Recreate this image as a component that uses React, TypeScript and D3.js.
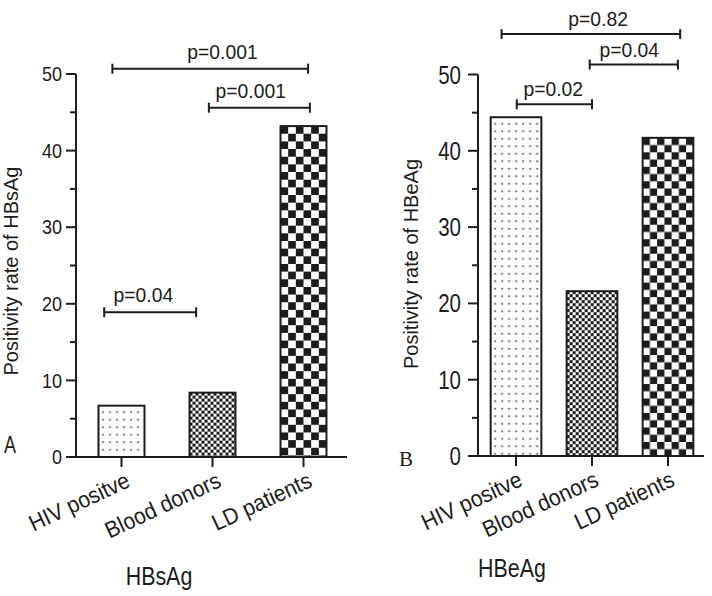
import React from "react";
import * as d3 from "d3";

const categories = ["HIV positve", "Blood donors", "LD patients"];
const hbsagValues = [6.7, 8.4, 43.2];
const hbeagValues = [44.4, 21.6, 41.7];
const yTicks = [0, 10, 20, 30, 40, 50];
const yMinorTicks = [5, 15, 25, 35, 45];

// significance brackets (positions in category units: 0 = first category)
const hbsagBracketFrom = [-0.1, 0.96, -0.19];
const hbsagBracketTo = [2.05, 2.07, 0.82];
const hbsagBracketValue = [50.7, 45.6, 18.9];
const hbsagBracketLabelAt = [1.11, 1.42, 0.24];
const hbsagBracketLabels = ["p=0.001", "p=0.001", "p=0.04"];

const hbeagBracketFrom = [-0.19, 0.97, 0.01];
const hbeagBracketTo = [2.16, 2.13, 1.0];
const hbeagBracketValue = [55.3, 51.3, 46.1];
const hbeagBracketLabelAt = [1.08, 1.49, 0.49];
const hbeagBracketLabels = ["p=0.82", "p=0.04", "p=0.02"];

const INK = "#1c1c1c";
const FONT = "'Liberation Sans', Arial, Helvetica, sans-serif";

type PanelProps = {
  id: string;
  values: number[];
  bFrom: number[];
  bTo: number[];
  bVal: number[];
  bLabelAt: number[];
  bLabels: string[];
  x0: number;
  x1: number;
  yBottom: number;
  yTop: number;
  padInner: number;
  yLabel: string;
  yLabelX: number;
  yLabelY: number;
  tickFont: number;
  tickScale: number;
  tickGap: number;
  letter: string;
  letterX: number;
  letterY: number;
  letterFont: string;
  letterSize: number;
  letterScale: number;
  title: string;
  titleX: number;
  titleY: number;
  catDx: number;
  catY: number;
  catFont: number;
  coarseCells: number;
  labelLift: number;
};

function Panel(p: PanelProps) {
  const x = d3
    .scaleBand<string>()
    .domain(categories)
    .range([p.x0, p.x1])
    .paddingInner(p.padInner)
    .paddingOuter(p.padInner / 2);
  const y = d3.scaleLinear().domain([0, 50]).range([p.yBottom, p.yTop]);
  const bw = x.bandwidth();
  const center = (i: number) => (x(categories[0]) as number) + bw / 2 + i * x.step();
  const coarse = bw / p.coarseCells;

  const fills = [`url(#${p.id}-dots)`, `url(#${p.id}-fine)`, `url(#${p.id}-coarse)`];

  return (
    <g>
      <defs>
        {categories.map((c, i) => {
          const bx = x(c) as number;
          const by = y(p.values[i]);
          if (i === 0)
            return (
              <pattern key={i} id={`${p.id}-dots`} patternUnits="userSpaceOnUse" width={7} height={7.5} x={bx} y={by}>
                <rect width={7} height={7.5} fill="#fff" />
                <circle cx={4.5} cy={6.5} r={0.85} fill={INK} />
              </pattern>
            );
          if (i === 1)
            return (
              <pattern key={i} id={`${p.id}-fine`} patternUnits="userSpaceOnUse" width={6} height={6} x={bx} y={by}>
                <rect width={6} height={6} fill="#fff" />
                <rect width={3} height={3} fill={INK} />
                <rect x={3} y={3} width={3} height={3} fill={INK} />
              </pattern>
            );
          return (
            <pattern key={i} id={`${p.id}-coarse`} patternUnits="userSpaceOnUse" width={coarse * 2} height={coarse * 2} x={bx} y={by}>
              <rect width={coarse * 2} height={coarse * 2} fill="#fff" />
              <rect width={coarse} height={coarse} fill={INK} />
              <rect x={coarse} y={coarse} width={coarse} height={coarse} fill={INK} />
            </pattern>
          );
        })}
      </defs>

      {/* bars */}
      {categories.map((c, i) => (
        <rect
          key={c}
          x={x(c)}
          y={y(p.values[i])}
          width={bw}
          height={y(0) - y(p.values[i])}
          fill={fills[i]}
          stroke={INK}
          strokeWidth={2}
        />
      ))}

      {/* y axis */}
      <line x1={p.x0} x2={p.x0} y1={y(0)} y2={y(50)} stroke={INK} strokeWidth={2} />
      {yTicks.map((t) => (
        <g key={t}>
          <line x1={p.x0 - 10} x2={p.x0} y1={y(t)} y2={y(t)} stroke={INK} strokeWidth={2} />
          <text
            transform={`translate(${p.x0 - p.tickGap},${y(t)}) scale(${p.tickScale},1)`}
            dy="0.36em"
            textAnchor="end"
            fontSize={p.tickFont}
            fontFamily={FONT}
            fill={INK}
          >
            {t}
          </text>
        </g>
      ))}
      {yMinorTicks.map((t) => (
        <line key={t} x1={p.x0 - 6} x2={p.x0} y1={y(t)} y2={y(t)} stroke={INK} strokeWidth={2} />
      ))}

      {/* x axis */}
      <line x1={p.x0} x2={p.x1 - 2} y1={y(0)} y2={y(0)} stroke={INK} strokeWidth={2} />
      {categories.map((c, i) => (
        <g key={c}>
          <line x1={center(i)} x2={center(i)} y1={y(0)} y2={y(0) + 10} stroke={INK} strokeWidth={2} />
          <text
            transform={`translate(${center(i) + p.catDx},${p.catY}) rotate(-25) scale(0.92,1)`}
            textAnchor="end"
            fontSize={p.catFont}
            fontFamily={FONT}
            fill={INK}
          >
            {c}
          </text>
        </g>
      ))}

      {/* brackets */}
      {p.bLabels.map((lab, i) => {
        const xa = center(p.bFrom[i]);
        const xb = center(p.bTo[i]);
        const yy = y(p.bVal[i]);
        return (
          <g key={i}>
            <line x1={xa} x2={xb} y1={yy} y2={yy} stroke={INK} strokeWidth={2} />
            <line x1={xa} x2={xa} y1={yy - 5} y2={yy + 5} stroke={INK} strokeWidth={2} />
            <line x1={xb} x2={xb} y1={yy - 5} y2={yy + 5} stroke={INK} strokeWidth={2} />
            <text
              transform={`translate(${center(p.bLabelAt[i])},${yy - p.labelLift}) scale(0.92,1)`}
              textAnchor="middle"
              fontSize={21}
              fontFamily={FONT}
              fill={INK}
            >
              {lab}
            </text>
          </g>
        );
      })}

      {/* y label */}
      <text
        transform={`translate(${p.yLabelX},${p.yLabelY}) rotate(-90)`}
        textAnchor="middle"
        fontSize={20}
        fontFamily={FONT}
        fill={INK}
      >
        {p.yLabel}
      </text>

      {/* panel letter */}
      <text
        transform={`translate(${p.letterX},${p.letterY}) scale(${p.letterScale},1)`}
        fontSize={p.letterSize}
        fontFamily={p.letterFont}
        fill={INK}
      >
        {p.letter}
      </text>

      {/* title */}
      <text
        transform={`translate(${p.titleX},${p.titleY}) scale(0.84,1)`}
        textAnchor="middle"
        fontSize={25.5}
        fontFamily={FONT}
        fill={INK}
      >
        {p.title}
      </text>
    </g>
  );
}

export default function App() {
  return (
    <svg width={712} height={596} style={{ position: "absolute", left: 0, top: 0, background: "#fff" }}>
      <rect width={712} height={596} fill="#fff" />
      <Panel
        id="a"
        values={hbsagValues}
        bFrom={hbsagBracketFrom}
        bTo={hbsagBracketTo}
        bVal={hbsagBracketValue}
        bLabelAt={hbsagBracketLabelAt}
        bLabels={hbsagBracketLabels}
        x0={76}
        x1={349}
        yBottom={457}
        yTop={74}
        padInner={0.495}
        yLabel="Positivity rate of HBsAg"
        yLabelX={18}
        yLabelY={271}
        tickFont={20}
        tickScale={0.9}
        tickGap={14}
        letter="A"
        letterX={4}
        letterY={453}
        letterFont={FONT}
        letterSize={24}
        letterScale={0.75}
        title="HBsAg"
        titleX={159}
        titleY={585}
        catDx={10}
        catY={486}
        catFont={23}
        coarseCells={6}
        labelLift={10}
      />
      <Panel
        id="b"
        values={hbeagValues}
        bFrom={hbeagBracketFrom}
        bTo={hbeagBracketTo}
        bVal={hbeagBracketValue}
        bLabelAt={hbeagBracketLabelAt}
        bLabels={hbeagBracketLabels}
        x0={478}
        x1={706}
        yBottom={456}
        yTop={74.5}
        padInner={0.333}
        yLabel="Positivity rate of HBeAg"
        yLabelX={418}
        yLabelY={264}
        tickFont={25}
        tickScale={0.82}
        tickGap={17}
        letter="B"
        letterX={399}
        letterY={466}
        letterFont="'Liberation Serif', 'Times New Roman', serif"
        letterSize={21}
        letterScale={1}
        title="HBeAg"
        titleX={512}
        titleY={577}
        catDx={8}
        catY={485}
        catFont={23}
        coarseCells={7}
        labelLift={8}
      />
    </svg>
  );
}
